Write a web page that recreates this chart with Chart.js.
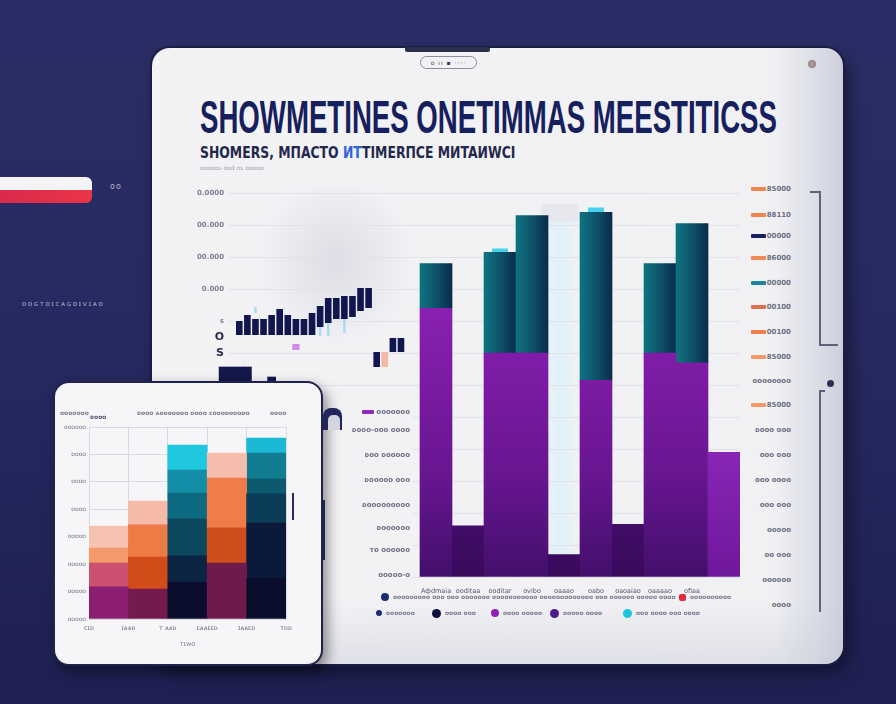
<!DOCTYPE html>
<html><head><meta charset="utf-8">
<script src="https://cdn.jsdelivr.net/npm/chart.js@4.4.1/dist/chart.umd.min.js"></script>
<style>
html,body{margin:0;padding:0;width:896px;height:704px;overflow:hidden;}
body{background:linear-gradient(180deg,#2b2e66 0%,#272a60 45%,#1e2052 100%);font-family:"DejaVu Sans",sans-serif;position:relative;}
.abs{position:absolute;}
#tablet{left:152px;top:48px;width:691px;height:616px;border-radius:18px;background:linear-gradient(90deg,#f3f3f6 0%,#f1f1f4 90%,#dfe1e9 95%,#cdd0dc 100%);box-shadow:0 0 0 2px #1b1d45,6px 8px 18px rgba(0,0,0,.45);}
#tabletShade{left:152px;top:600px;width:691px;height:64px;border-radius:0 0 18px 18px;background:linear-gradient(180deg,rgba(200,203,215,0) 0%,rgba(200,203,215,.45) 100%);}
#glare{left:255px;top:185px;width:160px;height:170px;background:radial-gradient(ellipse 50% 50% at 50% 45%,rgba(214,215,224,.75) 0%,rgba(220,221,228,.4) 60%,rgba(220,221,228,0) 100%);}
#glare2{left:540px;top:205px;width:40px;height:360px;background:linear-gradient(90deg,rgba(218,240,250,0),rgba(218,240,250,.8),rgba(218,240,250,0));}
#panel{left:541px;top:204px;width:38px;height:18px;background:#e6e8ee;border-radius:2px;}
#title{left:200px;top:94px;font-family:"Liberation Sans Narrow","Liberation Sans",sans-serif;font-weight:bold;font-size:46px;line-height:1;color:#16205c;white-space:nowrap;transform-origin:0 0;}
#subtitle{left:200px;top:146px;font-family:"DejaVu Sans",sans-serif;font-weight:bold;font-size:15px;line-height:1;color:#23284a;white-space:nowrap;transform-origin:0 0;}
#subtitle .hl{color:#2d62d8;}
#tiny{left:200px;top:164px;font-size:6px;color:#9a9cab;white-space:nowrap;}
.lbl{font-size:7px;font-weight:bold;color:#6f7285;white-space:nowrap;line-height:8px;}
.sw{display:inline-block;width:15px;height:4px;vertical-align:middle;margin-right:1px;border-radius:1px;}
.line{background:#5f6379;}
.dot{display:inline-block;border-radius:50%;vertical-align:middle;}
#small{left:53px;top:381px;width:266px;height:281px;border-radius:16px;background:#f6f6f8;border:2px solid #20234e;box-shadow:4px 6px 14px rgba(0,0,0,.45);}
</style></head>
<body>
<!-- left decorations -->
<div class="abs" style="left:0;top:177px;width:92px;height:13px;background:#f4f4f6;border-radius:0 6px 0 0;"></div>
<div class="abs" style="left:0;top:190px;width:92px;height:13px;background:linear-gradient(90deg,#d92a4c,#ea3448);border-radius:0 0 6px 0;"></div>
<div class="abs" style="left:110px;top:182px;font-size:8px;color:#b4b6c6;letter-spacing:1px;">oo</div>
<div class="abs" style="left:22px;top:300px;font-size:7px;color:#b0b3c8;letter-spacing:1.6px;">ᴅᴏɢᴛᴏɪᴄᴀɢᴏɪᴠɪᴀᴏ</div>

<div id="tablet" class="abs"></div>
<div id="tabletShade" class="abs"></div>
<div class="abs" style="left:405px;top:47px;width:85px;height:5px;background:#2c2f4a;border-radius:2px;"></div>
<div class="abs" style="left:420px;top:56px;width:55px;height:11px;border:1px solid #8a8da0;border-radius:7px;font-size:6px;line-height:11px;color:#3a3d55;text-align:center;letter-spacing:1px;">o ıı ▪ ····</div>
<div class="abs" style="left:808px;top:60px;width:8px;height:8px;border-radius:50%;background:radial-gradient(#b8a0a6,#8a747a);"></div>

<!-- right bracket -->
<div class="abs line" style="left:810px;top:191px;width:10px;height:1.5px;"></div>
<div class="abs line" style="left:819px;top:191px;width:1.5px;height:154px;"></div>
<div class="abs line" style="left:819px;top:344px;width:19px;height:1.5px;"></div>
<div class="abs" style="left:827px;top:380px;width:7px;height:7px;border-radius:50%;background:#2b3052;"></div>
<div class="abs line" style="left:819px;top:390px;width:1.5px;height:222px;"></div>
<div class="abs line" style="left:819px;top:390px;width:6px;height:1.5px;"></div>

<div id="glare" class="abs"></div>
<div id="glare2" class="abs"></div>
<div id="panel" class="abs"></div>

<div id="title" class="abs">SHOWMETINES ONETIMMAS MEESTITICSS</div>
<div id="subtitle" class="abs">SHOMERS, MПACTO <span class="hl">ИT</span>TIMERПCE MИTAИWCI</div>
<div id="tiny" class="abs">ooooos ood ns ooooo</div>

<canvas id="main" class="abs" width="550" height="415" style="left:190px;top:185px;"></canvas>
<canvas id="mini" class="abs" width="194" height="110" style="left:211px;top:280px;"></canvas>

<div id="lowerLabels" class="abs" style="left:326px;top:398px;width:86px;height:186px;background:#f2f2f5;"></div>

<div id="small" class="abs">
  <canvas id="smallChart" class="abs" width="240" height="250" style="left:3px;top:17px;"></canvas>
</div>
<div class="abs" style="left:292px;top:493px;width:2px;height:27px;background:#2a2d58;"></div>
<div class="abs" style="left:323px;top:408px;width:19px;height:22px;border-radius:8px 8px 0 0;background:#22265a;"></div>
<div class="abs" style="left:328px;top:415px;width:12px;height:15px;border-radius:5px 5px 0 0;background:#d3d5de;"></div>
<div class="abs" style="left:321px;top:500px;width:4px;height:60px;background:#20234e;"></div>

<script>
// ---------- MAIN CHART DATA ----------
const mainCategories = ['', '', '', '', '', '', 'Афdmaia', 'ooditaa', 'ooditar', 'ovibo', 'oaaao', 'oabo', 'oaoaiao', 'oaaaao', 'ofiaa', ''];
const purpleValues = [null, null, null, null, null, null, 8.4, 1.6, 7.0, 7.0, 0.7, 6.15, 1.65, 7.0, 6.7, 3.9];
const tealValues   = [null, null, null, null, null, null, 1.4, null, 3.15, 4.3, null, 5.25, null, 2.8, 4.35, null];
const cyanValues   = [null, null, null, null, null, null, null, null, 0.12, null, null, 0.15, null, null, null, null];
const gapIndices = [7, 10, 12];
const mainYLabels = {12: '0.0000', 11: '00.000', 10: '00.000', 9: '0.000', 8: 's', 7.5: 'O', 7: 'S'};

// ---------- MINI (candle) CHART DATA ----------
const miniCategories = ['a','b','c','d','e','f','g','h','i','j','k','l','m','n','o','p','q','r','s','t','u','v','w','x'];
const miniNavy   = [null,null,null,[65,79],[65,85],[65,81],[65,81],[65,85],[65,91],[65,85],[65,81],[65,81],[65,87],[73,94],[77,102],[81,102],[81,104],[83,104],[89,112],[92,112],[33,48],null,[48,62],[48,62]];
const miniPeach  = [null,null,null,null,null,null,null,null,null,null,null,null,null,null,null,null,null,null,null,null,null,[33,48],null,null];
const miniBase   = [null,[18,33],[18,33],[18,33],[18,33],null,null,[18,23],null,null,null,null,null,null,null,null,null,null,null,null,null,null,null,null];
const miniAccent = [null,null,null,null,null,null,null,null,null,null,[50,56],null,null,null,null,null,null,null,null,null,null,null,null,null];
const miniCyan   = [null,null,null,null,null,[87,93],null,null,null,null,null,null,null,[64,73],[64,77],null,[67,81],null,null,null,null,null,null,null];

// ---------- LABEL COLUMNS ----------
const lowerLabels = ['ᴏᴏᴏᴏᴏᴏᴏ', 'ᴅᴏᴏᴏ-ᴏᴏᴏ ᴏᴏᴏᴏ', 'ᴅᴏᴏ ᴅᴏᴏᴏᴏᴏ', 'ᴅᴏᴏᴏᴏᴏ ᴏᴏᴏ', 'ᴅᴏᴏᴏᴏᴏᴏᴏᴏᴏ', 'ᴅᴏᴏᴏᴏᴏᴏ', 'ᴛᴏ ᴏᴏᴏᴏᴏᴏ', 'ᴏᴏᴏᴏᴏ-ᴏ'];
const lowerLabelY = [412, 430, 455, 480, 505, 528, 550, 575];
const rightLabels = ['85000', '88110', '00000', '86000', '00000', '00100', '00100', '85000', 'ᴏᴏᴏᴏᴏᴏᴏᴏ', '85000', 'ᴅᴏᴏᴏ ᴏᴏᴏ', 'ᴏᴏᴏ ᴏᴏᴏ', 'ᴏᴏᴏ ᴏᴏᴏᴏ', 'ᴏᴏᴏ ᴏᴏᴏ', 'ᴏᴏᴏᴏᴏ', 'ᴏᴏ ᴏᴏᴏ', 'ᴏᴏᴏᴏᴏᴏ', 'ᴏᴏᴏᴏ'];
const rightSwatches = ['#f0874e', '#f0874e', '#1a2160', '#f08a55', '#17889a', '#e0704e', '#f07e4c', '#f19a6a', null, '#f19a6a', null, null, null, null, null, null, null, null];
const rightLabelY = [189, 215, 236, 258, 283, 307, 332, 357, 381, 405, 430, 455, 480, 505, 530, 555, 580, 605];
const legendRow1 = [
  {x: 381, y: 597, color: '#1c2a70', size: 8, text: 'ᴏᴏᴏᴏᴏᴏᴏᴏᴏ ᴏᴏᴏ ᴏᴏᴏ ᴏᴏᴏᴏᴏᴏᴏ ᴏᴏᴏᴏᴏᴏᴏᴏᴏᴏᴏ ᴏᴏᴏᴏᴏᴏᴏᴏᴏᴏᴏᴏᴏ ᴏᴏᴏ ᴏᴏᴏᴏᴏᴏ ᴏᴏᴏᴏᴏ ᴏᴏᴏᴏ'},
  {x: 679, y: 597, color: '#e3283e', size: 7, square: true, text: 'ᴏᴏᴏᴏᴏᴏᴏᴏᴏᴏ'}
];
const legendRow2 = [
  {x: 376, y: 613, color: '#1c2a70', size: 6, text: 'ᴅᴏᴏᴏᴏᴏᴏ'},
  {x: 432, y: 613, color: '#0c0f3a', size: 9, text: 'ᴏᴏᴏᴏ ᴏᴏᴏ'},
  {x: 491, y: 613, color: '#8d22b4', size: 8, text: 'ᴏᴏᴏᴏ ᴏᴏᴏᴏᴏ'},
  {x: 550, y: 613, color: '#4e1a8c', size: 9, text: 'ᴅᴏᴏᴏᴏ ᴏᴏᴏᴏ'},
  {x: 623, y: 613, color: '#1bc6da', size: 9, text: 'ᴏᴏᴏ ᴏᴏᴏᴏ  ᴏᴏᴏ ᴏᴏᴏᴏ'}
];

// ---------- SMALL TABLET DATA ----------
const smallXLabels = ['ᴄɪᴅ', 'ɪᴀᴀᴅ', 'ᴛ ᴀᴀᴅ', 'ᴇᴀᴀᴇᴇᴅ', 'ɪᴀᴀᴇᴅ', 'ᴛᴅᴅ'];
const smallYLabels = ['ᴏᴏᴏᴏᴏ', 'ᴏᴏᴏᴏᴏ', 'ᴏᴏᴏᴏᴏ', 'ᴏᴏᴏᴏᴏ', 'ᴏᴏᴏᴏ', 'ᴏᴏᴏᴏ', 'ᴏᴏᴏᴏ', 'ᴏᴏᴏᴏᴏᴏ'];
const smallColumns = [0.5, 1.5, 2.5, 3.5, 4.5];
const layer1 = [1.17, 1.09, 1.35, 2.04, 1.49];
const layer2 = [0.87, 1.17, 0.95, 1.28, 2.01];
const layer3 = [0.55, 1.17, 1.35, 1.82, 1.06];
const layer4 = [0.80, 0.87, 0.94, 0.91, 0.54];
const layer5 = [0, 0, 0.84, 0, 0.95];
const layer6 = [0, 0, 0.91, 0, 0.55];
const layerColors = [
  ['#8c1f72', '#741a4c', '#0b0d2e', '#6e1a4a', '#0a0d2c'],
  ['#cc5070', '#d24c1a', '#0c2444', '#d04e1c', '#0b1a3a'],
  ['#f3996c', '#ec7b46', '#0d4861', '#ee7d4a', '#0c3d58'],
  ['#f6c2b2', '#f5bba8', '#0e6a80', '#f6bdac', '#0d5a70'],
  ['#ffffff', '#ffffff', '#148ea6', '#ffffff', '#127d90'],
  ['#ffffff', '#ffffff', '#1fc7df', '#ffffff', '#19b9d4']
];

// ---------- build HTML text bits ----------
function el(parent, html, style) {
  const d = document.createElement('div');
  d.className = 'abs lbl';
  d.innerHTML = html;
  Object.assign(d.style, style);
  parent.appendChild(d);
  return d;
}
const body = document.body;
lowerLabels.forEach((t, i) => {
  const sw = i === 0 ? '<span class="sw" style="background:#8d28b8;width:12px;margin-right:2px;"></span>' : '';
  el(body, sw + t, {right: (896 - 410) + 'px', top: (lowerLabelY[i] - 4) + 'px', color: '#6d7084'});
});
rightLabels.forEach((t, i) => {
  const sw = rightSwatches[i] ? '<span class="sw" style="background:' + rightSwatches[i] + '"></span>' : '';
  el(body, sw + t, {right: (896 - 791) + 'px', top: (rightLabelY[i] - 4) + 'px', color: '#6d7084'});
});
legendRow1.concat(legendRow2).forEach(it => {
  const r = it.square ? '2px' : '50%';
  el(body, '<span class="dot" style="width:' + it.size + 'px;height:' + it.size + 'px;border-radius:' + r + ';background:' + it.color + ';margin-right:4px;"></span>' + it.text,
    {left: it.x + 'px', top: (it.y - 5) + 'px', fontSize: '6px', lineHeight: '10px', color: '#7a7d92'});
});
// small tablet headings
el(body, 'ᴏᴏᴏᴏᴏᴏᴏ', {left: '60px', top: '409px', fontSize: '6px', color: '#7c7f90'});
el(body, 'ᴅᴏᴏᴏ', {left: '90px', top: '413px', fontSize: '6px', color: '#555870'});
el(body, 'ᴅᴏᴏᴏ ᴀᴏᴏᴏᴏᴏᴏᴏ ᴏᴏᴏᴏ ᴄᴏᴏᴏᴏᴏᴏᴏᴏᴏ', {left: '137px', top: '409px', fontSize: '6px', color: '#7c7f90'});
el(body, 'ᴏᴏᴏᴏ', {left: '270px', top: '409px', fontSize: '6px', color: '#7c7f90'});

// fit title widths
function fitWidth(id, w) {
  const e = document.getElementById(id);
  const cw = e.scrollWidth;
  e.style.transform = 'scaleX(' + (w / cw) + ')';
}
fitWidth('title', 577);
fitWidth('subtitle', 315);

// ---------- MAIN CHART ----------
function purpleColor(ctx) {
  const chart = ctx.chart, ca = chart.chartArea;
  if (!ca) return '#6a168e';
  const i = ctx.dataIndex;
  const g = chart.ctx.createLinearGradient(0, ca.top + 110, 0, ca.bottom);
  if (i === 15) { g.addColorStop(0, '#a835d4'); g.addColorStop(1, '#6e189c'); }
  else if (gapIndices.includes(i)) { g.addColorStop(0, '#6a1896'); g.addColorStop(1, '#380a5c'); }
  else { g.addColorStop(0, '#8a20b2'); g.addColorStop(0.6, '#6a1692'); g.addColorStop(1, '#430f6c'); }
  return g;
}
function tealColor(ctx) {
  const chart = ctx.chart, ca = chart.chartArea;
  if (!ca) return '#0e5a6e';
  const x = chart.scales.x.getPixelForValue(ctx.dataIndex);
  const g = chart.ctx.createLinearGradient(x - 16, 0, x + 16, 0);
  g.addColorStop(0, '#10737f'); g.addColorStop(0.55, '#0c5068'); g.addColorStop(1, '#0a2b4a');
  return g;
}
new Chart(document.getElementById('main'), {
  type: 'bar',
  data: {
    labels: mainCategories,
    datasets: [
      {label: 'purple', data: purpleValues, backgroundColor: purpleColor, barPercentage: 1, categoryPercentage: 1},
      {label: 'teal', data: tealValues, backgroundColor: tealColor, barPercentage: 1, categoryPercentage: 1},
      {label: 'cyan', data: cyanValues, backgroundColor: '#47d3ea', barPercentage: 0.5, categoryPercentage: 1}
    ]
  },
  options: {
    responsive: false, animation: false, devicePixelRatio: 1,
    layout: {padding: {top: 8, right: 0, left: 0, bottom: 0}},
    plugins: {legend: {display: false}, tooltip: {enabled: false}},
    scales: {
      x: {
        stacked: true,
        grid: {display: false}, border: {display: false},
        ticks: {autoSkip: false, maxRotation: 0, padding: 2, color: '#55586c', font: {family: 'DejaVu Sans', size: 6.5}},
        afterFit: s => { s.height = 23; }
      },
      y: {
        stacked: true, min: 0, max: 12,
        border: {display: false},
        grid: {drawTicks: false, color: c => Number.isInteger(c.tick.value) ? '#e1e2e8' : 'rgba(0,0,0,0)', lineWidth: 1},
        ticks: {
          stepSize: 0.5, padding: 4, autoSkip: false,
          callback: v => mainYLabels[v] || '',
          color: c => (c.tick && (c.tick.value === 7.5 || c.tick.value === 7)) ? '#2c2f48' : '#7d8095',
          font: c => (c.tick && (c.tick.value === 7.5 || c.tick.value === 7)) ? {family: 'DejaVu Sans', size: 11, weight: 'bold'} : {family: 'DejaVu Sans', size: 7, weight: 'bold'}
        },
        afterFit: s => { s.width = 38; }
      }
    }
  }
});

// ---------- MINI CHART ----------
new Chart(document.getElementById('mini'), {
  type: 'bar',
  data: {
    labels: miniCategories,
    datasets: [
      {data: miniBase, backgroundColor: '#13174a', barPercentage: 1, categoryPercentage: 1, grouped: false},
      {data: miniNavy, backgroundColor: '#121650', barPercentage: 0.82, categoryPercentage: 1, grouped: false},
      {data: miniPeach, backgroundColor: '#f2b9a6', barPercentage: 0.82, categoryPercentage: 1, grouped: false},
      {data: miniAccent, backgroundColor: '#cf8de8', barPercentage: 0.9, categoryPercentage: 1, grouped: false},
      {data: miniCyan, backgroundColor: '#a6dcec', barPercentage: 0.3, categoryPercentage: 1, grouped: false}
    ]
  },
  options: {
    responsive: false, animation: false, devicePixelRatio: 1,
    layout: {padding: 0},
    plugins: {legend: {display: false}, tooltip: {enabled: false}},
    scales: {
      x: {display: false},
      y: {display: false, min: 10, max: 120}
    }
  }
});

// ---------- SMALL TABLET CHART ----------
const layers = [layer1, layer2, layer3, layer4, layer5, layer6];
new Chart(document.getElementById('smallChart'), {
  type: 'bar',
  data: {
    datasets: layers.map((arr, li) => ({
      data: smallColumns.map((x, i) => ({x: x, y: arr[i]})),
      backgroundColor: layerColors[li],
      barPercentage: 1, categoryPercentage: 1
    }))
  },
  options: {
    responsive: false, animation: false, devicePixelRatio: 1,
    layout: {padding: {top: 27, right: 12, left: 0, bottom: 0}},
    plugins: {legend: {display: false}, tooltip: {enabled: false}},
    scales: {
      x: {
        type: 'linear', min: 0, max: 5, stacked: true, offset: false,
        border: {display: false},
        grid: {color: '#d9dae0', drawTicks: false, offset: false},
        ticks: {stepSize: 1, padding: 5, autoSkip: false, maxRotation: 0, color: '#6c6f80', font: {family: 'DejaVu Sans', size: 6.5},
          callback: v => smallXLabels[v] !== undefined ? smallXLabels[v] : ''},
        title: {display: true, text: 'ᴛɪᴡᴏ', color: '#7c7f90', font: {family: 'DejaVu Sans', size: 6.5}, padding: {top: 0, bottom: 2}},
        afterFit: s => { s.height = 31; }
      },
      y: {
        stacked: true, min: 0, max: 7,
        border: {display: false},
        grid: {color: '#d9dae0', drawTicks: false},
        ticks: {stepSize: 1, padding: 3, color: '#77798a', font: {family: 'DejaVu Sans', size: 6},
          callback: v => smallYLabels[v] !== undefined ? smallYLabels[v] : ''},
        afterFit: s => { s.width = 31; }
      }
    }
  }
});
</script>
</body></html>
